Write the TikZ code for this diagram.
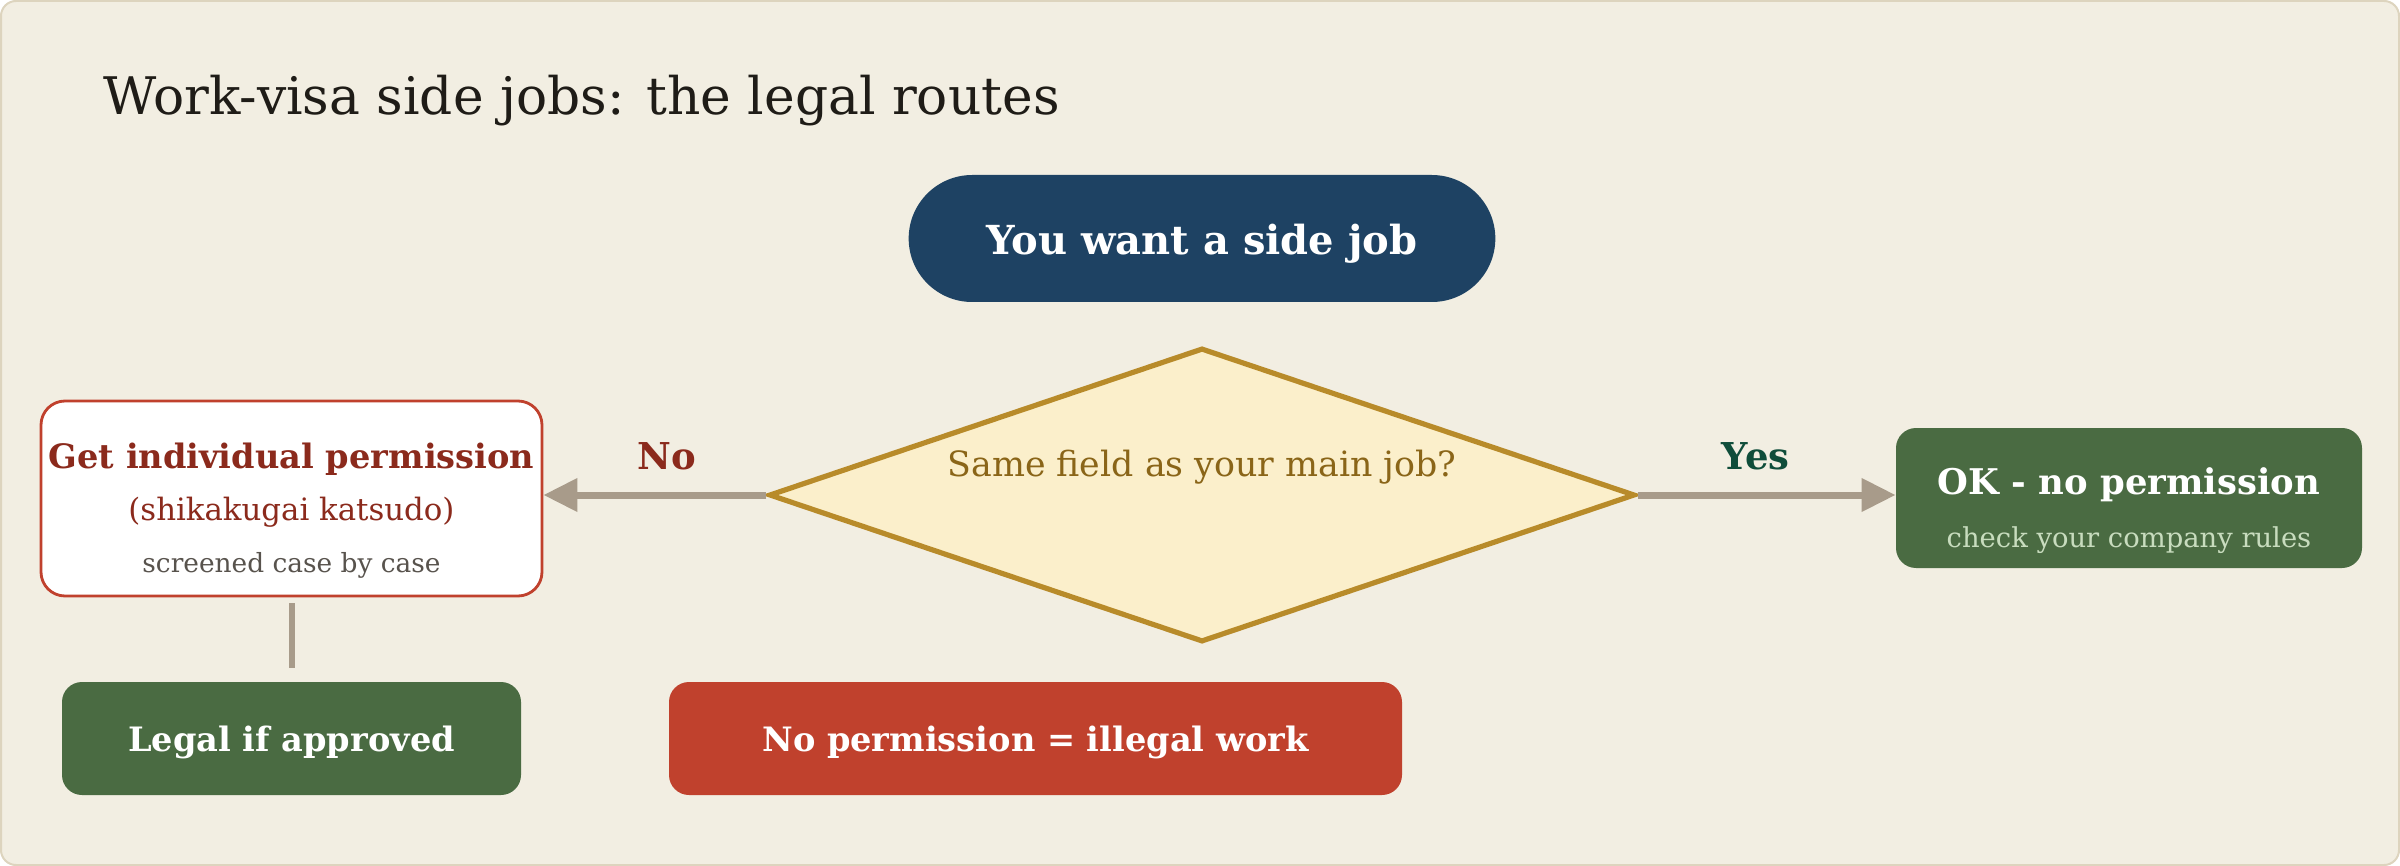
\documentclass[tikz,border=0pt]{standalone}
\usepackage{fontspec}
\setmainfont{DejaVu Serif}
\usetikzlibrary{shapes.geometric,shapes.misc,arrows.meta}

\definecolor{paper}{HTML}{F2EEE2}
\definecolor{paperline}{HTML}{DDD4BE}
\definecolor{navy}{HTML}{1E4263}
\definecolor{sand}{HTML}{FBEFCB}
\definecolor{ochre}{HTML}{B88B2A}
\definecolor{ochretext}{HTML}{8A6518}
\definecolor{wire}{HTML}{A89B8A}
\definecolor{brick}{HTML}{C0412D}
\definecolor{wine}{HTML}{8B2A1C}
\definecolor{moss}{HTML}{4A6B42}
\definecolor{mint}{HTML}{C8DCBE}
\definecolor{pine}{HTML}{0F4D3A}
\definecolor{ink}{HTML}{1F1C17}
\definecolor{slate}{HTML}{58534D}

\begin{document}
\begin{tikzpicture}[x=0.5pt, y=-0.5pt,
	startbox/.style={rounded rectangle, fill=navy, text=white,
		minimum width=300pt, minimum height=63.5pt,
		text height=16.5pt, text depth=0pt,
		font=\fontsize{20}{24}\selectfont\bfseries},
	decision/.style={diamond, draw=ochre, line width=2.6pt, fill=sand,
		minimum width=433pt, minimum height=147pt, inner sep=0pt},
	asktext/.style={text=ochretext, font=\fontsize{17.4}{21}\selectfont},
	permbox/.style={rectangle, rounded corners=12pt, draw=brick, line width=1.4pt,
		fill=white, minimum width=250.5pt, minimum height=97.5pt},
	okbox/.style={rectangle, rounded corners=10pt, fill=moss,
		minimum width=233pt, minimum height=70pt},
	legalbox/.style={rectangle, rounded corners=10pt, fill=moss, text=white,
		minimum width=229.5pt, minimum height=56.5pt,
		text height=12.5pt, text depth=0pt,
		font=\fontsize{16.8}{20}\selectfont\bfseries},
	illegalbox/.style={legalbox, fill=brick, minimum width=366.5pt},
	flow/.style={draw=wire, line width=3.5pt,
		-{Triangle[length=17pt, width=16pt]}},
	link/.style={draw=wire, line width=3pt},
	branch/.style={inner sep=0pt, font=\fontsize{18.5}{22}\selectfont\bfseries}
]

	% ---- frame

	\useasboundingbox (0,0) rectangle (2400,866);
	\draw[paperline, fill=paper, line width=1pt, rounded corners=7.5pt]
		(1,1) rectangle (2399,865);

	% ---- title

	\node[anchor=base west, inner sep=0pt, text=ink,
		font=\fontsize{25.9}{31}\selectfont] (title) at (103,115)
		{Work-visa side jobs: the legal routes};

	% ---- nodes

	\node[startbox] (start) at (1202,238.5) {You want a side job};

	\node[decision, label={[asktext, yshift=14pt]center:Same field as your main job?}]
		(ask) at (1202,495) {};

	\node[permbox, label={[align=center, yshift=-6.25pt,
		font=\fontsize{15}{26}\selectfont]center:{%
		{\fontsize{16.8}{26}\selectfont\bfseries\color{wine}Get individual permission}\\
		{\fontsize{15.4}{26}\selectfont\color{wine}(shikakugai katsudo)}\\
		{\fontsize{13.2}{26}\selectfont\color{slate}screened case by case}}}]
		(perm) at (291.5,498.5) {};

	\node[okbox, label={[align=center, yshift=-6.5pt,
		font=\fontsize{15}{26.5}\selectfont]center:{%
		{\fontsize{17.7}{26.5}\selectfont\bfseries\color{white}OK - no permission}\\
		{\fontsize{13.7}{26.5}\selectfont\color{mint}check your company rules}}}]
		(ok) at (2129,498) {};

	\node[legalbox] (legal) at (291.5,738.5) {Legal if approved};
	\node[illegalbox] (illegal) at (1035.5,738.5) {No permission = illegal work};

	% ---- connectors

	\draw[flow] (ask.west) -- node[pos=.447, above=10.5pt, branch, text=wine] {No}
		(perm.east |- ask.west);
	\draw[flow] (ask.east) -- node[pos=.458, above=10.5pt, branch, text=pine] {Yes}
		(ok.west |- ask.east);
	\draw[link, shorten <=3pt, shorten >=7pt] (perm.south) -- (legal.north);

\end{tikzpicture}
\end{document}
